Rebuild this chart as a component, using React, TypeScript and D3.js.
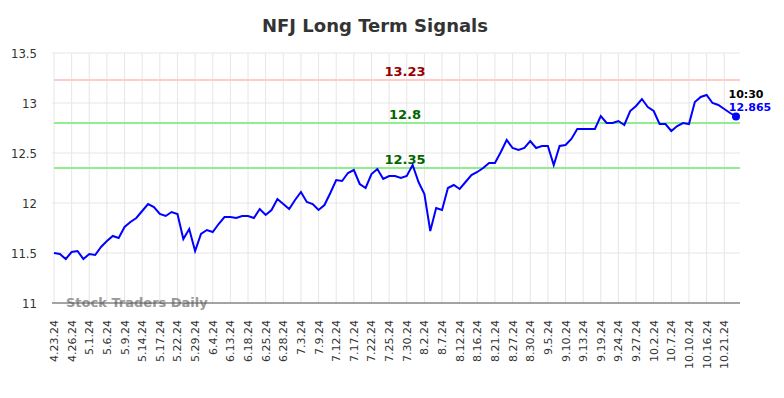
import { useEffect, useRef } from 'react';
import * as d3 from 'd3';

const tickLabels = [
  '4.23.24', '4.26.24', '5.1.24', '5.6.24', '5.9.24', '5.14.24', '5.17.24', '5.22.24', '5.29.24', '6.4.24',
  '6.13.24', '6.18.24', '6.25.24', '6.28.24', '7.3.24', '7.9.24', '7.12.24', '7.17.24', '7.22.24', '7.25.24',
  '7.30.24', '8.2.24', '8.7.24', '8.12.24', '8.16.24', '8.21.24', '8.27.24', '8.30.24', '9.5.24', '9.10.24',
  '9.13.24', '9.19.24', '9.24.24', '9.27.24', '10.2.24', '10.7.24', '10.10.24', '10.16.24', '10.21.24',
];

const prices = [
  11.50, 11.49, 11.44, 11.51, 11.52, 11.44, 11.49, 11.48, 11.56, 11.62,
  11.67, 11.65, 11.76, 11.81, 11.85, 11.92, 11.99, 11.96, 11.89, 11.87,
  11.91, 11.89, 11.64, 11.74, 11.52, 11.69, 11.73, 11.71, 11.79, 11.86,
  11.86, 11.85, 11.87, 11.87, 11.85, 11.94, 11.88, 11.93, 12.04, 11.99,
  11.94, 12.03, 12.11, 12.01, 11.99, 11.93, 11.98, 12.10, 12.23, 12.22,
  12.30, 12.33, 12.19, 12.15, 12.29, 12.34, 12.24, 12.27, 12.27, 12.25,
  12.27, 12.38, 12.21, 12.09, 11.72, 11.95, 11.93, 12.15, 12.18, 12.14,
  12.21, 12.28, 12.31, 12.35, 12.40, 12.40, 12.51, 12.63, 12.55, 12.53,
  12.55, 12.62, 12.55, 12.57, 12.57, 12.38, 12.57, 12.58, 12.64, 12.74,
  12.74, 12.74, 12.74, 12.87, 12.80, 12.80, 12.82, 12.78, 12.92, 12.97,
  13.04, 12.96, 12.92, 12.79, 12.79, 12.72, 12.77, 12.80, 12.79, 13.01,
  13.06, 13.08, 13.00, 12.98, 12.94, 12.90, 12.865,
];

const yTicks = [11, 11.5, 12, 12.5, 13, 13.5];

const signalLevels = [13.23, 12.8, 12.35];
const signalLines = ['#ffcccc', '#90ee90', '#90ee90'];
const signalText = ['#990000', '#006600', '#006600'];

const lastTime = '10:30';

export default function App() {
  const ref = useRef<SVGSVGElement>(null);

  useEffect(() => {
    if (!ref.current) return;
    const svg = d3.select(ref.current);
    svg.selectAll('*').remove();

    const left = 54;
    const right = 740;
    const top = 53;
    const bottom = 303;

    const x = d3.scaleLinear().domain([0, prices.length - 1]).range([left, 736]);
    const y = d3.scaleLinear().domain([11, 13.5]).range([bottom, top]);

    // title
    svg.append('text')
      .attr('x', 375)
      .attr('y', 32)
      .attr('text-anchor', 'middle')
      .attr('font-family', '"DejaVu Sans", sans-serif')
      .attr('font-weight', 'bold')
      .attr('font-size', 18)
      .attr('fill', '#333')
      .text('NFJ Long Term Signals');

    // grid
    const grid = svg.append('g');
    yTicks.forEach(v => {
      grid.append('line')
        .attr('x1', left - 2).attr('x2', right)
        .attr('y1', y(v)).attr('y2', y(v))
        .attr('stroke', '#e6e6e6').attr('stroke-width', 1);
    });
    tickLabels.forEach((_, i) => {
      grid.append('line')
        .attr('x1', x(i * 3)).attr('x2', x(i * 3))
        .attr('y1', top).attr('y2', bottom)
        .attr('stroke', '#e6e6e6').attr('stroke-width', 1);
    });

    // y labels
    yTicks.forEach(v => {
      svg.append('text')
        .attr('x', 37)
        .attr('y', y(v) + 5)
        .attr('text-anchor', 'end')
        .attr('font-family', '"DejaVu Sans Condensed", "DejaVu Sans", sans-serif')
        .attr('font-size', 13)
        .attr('fill', '#333')
        .text(String(v));
    });

    // x labels
    tickLabels.forEach((t, i) => {
      svg.append('text')
        .attr('transform', `translate(${x(i * 3) + 4},${bottom + 17}) rotate(-90)`)
        .attr('text-anchor', 'end')
        .attr('font-family', '"DejaVu Sans", sans-serif')
        .attr('font-size', 11)
        .attr('fill', '#333')
        .text(t);
    });

    // watermark
    svg.append('text')
      .attr('x', 66)
      .attr('y', 307)
      .attr('font-family', '"DejaVu Sans", sans-serif')
      .attr('font-weight', 'bold')
      .attr('font-size', 13)
      .attr('fill', '#999')
      .text('Stock Traders Daily');

    // bottom axis line
    svg.append('line')
      .attr('x1', left - 2).attr('x2', right)
      .attr('y1', bottom).attr('y2', bottom)
      .attr('stroke', '#555').attr('stroke-width', 1);

    // signal lines
    signalLevels.forEach((v, i) => {
      svg.append('line')
        .attr('x1', left).attr('x2', right)
        .attr('y1', y(v)).attr('y2', y(v))
        .attr('stroke', signalLines[i]).attr('stroke-width', 2);
      svg.append('text')
        .attr('x', 405)
        .attr('y', y(v) - 4)
        .attr('text-anchor', 'middle')
        .attr('font-family', '"DejaVu Sans", sans-serif')
        .attr('font-weight', 'bold')
        .attr('font-size', 13)
        .attr('fill', signalText[i])
        .text(String(v));
    });

    // price line
    const line = d3.line<number>()
      .x((_, i) => x(i))
      .y(d => y(d));
    svg.append('path')
      .datum(prices)
      .attr('d', line)
      .attr('fill', 'none')
      .attr('stroke', '#0000ff')
      .attr('stroke-width', 2);

    // last point
    const li = prices.length - 1;
    svg.append('circle')
      .attr('cx', x(li)).attr('cy', y(prices[li]))
      .attr('r', 4)
      .attr('fill', '#0000ff');
    svg.append('text')
      .attr('x', 746).attr('y', y(prices[li]) - 19)
      .attr('text-anchor', 'middle')
      .attr('font-family', '"DejaVu Sans", sans-serif')
      .attr('font-weight', 'bold')
      .attr('font-size', 11)
      .attr('fill', '#000')
      .text(lastTime);
    svg.append('text')
      .attr('x', 750).attr('y', y(prices[li]) - 6)
      .attr('text-anchor', 'middle')
      .attr('font-family', '"DejaVu Sans", sans-serif')
      .attr('font-weight', 'bold')
      .attr('font-size', 11)
      .attr('fill', '#0000ff')
      .text(String(prices[li]));
  }, []);

  return (
    <svg
      ref={ref}
      width={784}
      height={398}
      style={{ position: 'absolute', left: 0, top: 0, background: '#fff' }}
    />
  );
}
